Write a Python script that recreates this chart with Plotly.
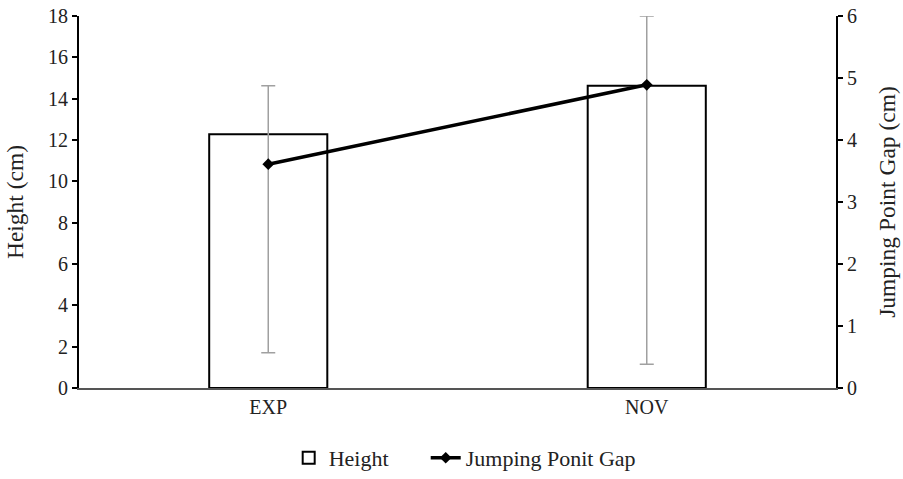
import plotly.graph_objects as go

categories = ["EXP", "NOV"]
height_vals = [12.28, 14.62]
height_err_plus = [2.34, 3.38]
height_err_minus = [10.57, 13.47]
gap_vals = [3.61, 4.89]

font_family = "Liberation Serif, Times New Roman, serif"

fig = go.Figure()
fig.add_trace(go.Bar(
    x=categories, y=height_vals, name="Height", legend="legend",
    marker=dict(color="white", line=dict(color="black", width=2)),
    error_y=dict(type="data", symmetric=False, array=height_err_plus,
                 arrayminus=height_err_minus, color="#a0a0a0", thickness=1.5, width=7),
    width=0.312,
))
fig.add_trace(go.Scatter(
    x=categories, y=gap_vals, name="Jumping Ponit Gap", yaxis="y2", legend="legend2",
    mode="lines+markers",
    line=dict(color="black", width=3.5),
    marker=dict(symbol="diamond", size=9, color="black"),
))

fig.update_layout(
    width=903, height=479,
    margin=dict(l=79, r=67, t=16, b=91, autoexpand=False),
    paper_bgcolor="white", plot_bgcolor="white",
    font=dict(family=font_family, size=20, color="#222"),
    showlegend=True,
    legend=dict(orientation="h", x=0.277, xanchor="left", y=-0.188, yanchor="middle",
                font=dict(family=font_family, size=22, color="#222")),
    legend2=dict(orientation="h", x=0.458, xanchor="left", y=-0.188, yanchor="middle",
                 font=dict(family=font_family, size=22, color="#222")),
    xaxis=dict(showline=True, linecolor="#555", linewidth=1.5, ticks="",
               tickfont=dict(size=20), showgrid=False, automargin=False),
    yaxis=dict(range=[0, 18], dtick=2, showline=True, linecolor="black", linewidth=2,
               ticks="outside", ticklen=5, tickwidth=1.5, tickcolor="black",
               showgrid=False, zeroline=False, automargin=False, tickfont=dict(size=20),
               title=dict(text="Height (cm)", font=dict(size=23.5), standoff=18)),
    yaxis2=dict(range=[0, 6], dtick=1, overlaying="y", side="right", showline=True,
                linecolor="black", linewidth=2, ticks="outside", ticklen=5, tickwidth=1.5,
                tickcolor="black", showgrid=False, zeroline=False, automargin=False,
                tickfont=dict(size=20),
                title=dict(text="Jumping Point Gap (cm)", font=dict(size=23.5), standoff=23)),
)

fig.write_html("out.html", config={"displayModeBar": False},
               post_script="document.body.style.margin='0';")
